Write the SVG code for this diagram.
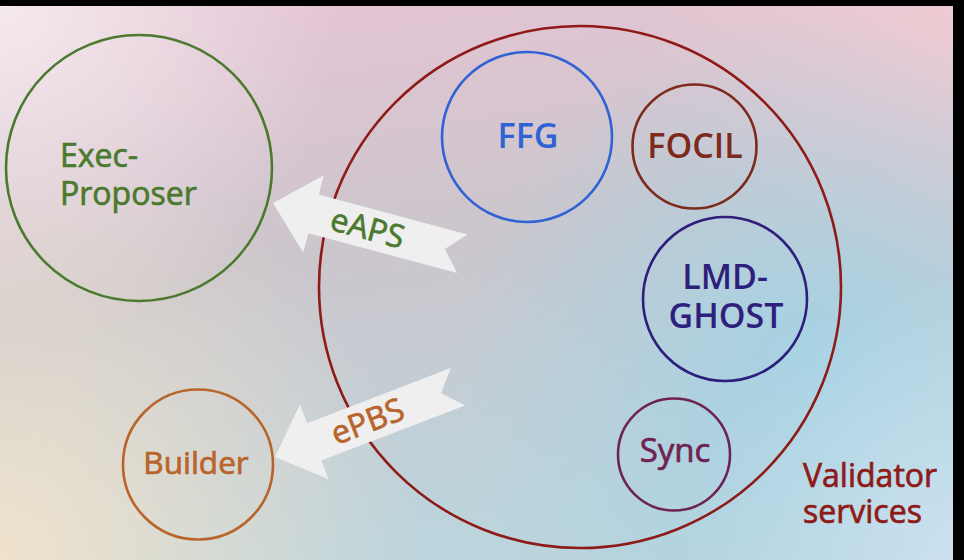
<svg xmlns="http://www.w3.org/2000/svg" width="964" height="560" viewBox="0 0 964 560">
<defs>
<linearGradient id="bg" x1="0" y1="0" x2="0.25" y2="1">
<stop offset="0" stop-color="#e8c4d4"/>
<stop offset="0.5" stop-color="#ccc6cc"/>
<stop offset="1" stop-color="#bcd4dc"/>
</linearGradient>
<radialGradient id="g1" cx="0" cy="560" r="420" gradientUnits="userSpaceOnUse">
<stop offset="0" stop-color="#f0e2cc" stop-opacity="1"/>
<stop offset="1" stop-color="#f0e2cc" stop-opacity="0"/>
</radialGradient>
<radialGradient id="g2" cx="820" cy="370" r="360" gradientUnits="userSpaceOnUse">
<stop offset="0" stop-color="#a4d2e4" stop-opacity="0.95"/>
<stop offset="1" stop-color="#a4d2e4" stop-opacity="0"/>
</radialGradient>
<radialGradient id="g3" cx="0" cy="0" r="340" gradientUnits="userSpaceOnUse">
<stop offset="0" stop-color="#f5ecf0" stop-opacity="0.95"/>
<stop offset="1" stop-color="#f5ecf0" stop-opacity="0"/>
</radialGradient>
<radialGradient id="g4" cx="964" cy="0" r="340" gradientUnits="userSpaceOnUse">
<stop offset="0" stop-color="#f2ccd4" stop-opacity="0.9"/>
<stop offset="1" stop-color="#f2ccd4" stop-opacity="0"/>
</radialGradient>
<radialGradient id="g5" cx="964" cy="560" r="280" gradientUnits="userSpaceOnUse">
<stop offset="0" stop-color="#cfe3f1" stop-opacity="0.9"/>
<stop offset="1" stop-color="#cfe3f1" stop-opacity="0"/>
</radialGradient>
<polygon id="arrowShape" points="0,0 42,-40 42,-20 196,-20 178,0 196,20 42,20 42,40"/>
</defs>
<style>
circle { fill: none; stroke-width: 2.6; }
text { font-family: "Open Sans", "Noto Sans", "Liberation Sans", sans-serif; }
.med { stroke-width: 0.7; }
.semi { font-weight: 600; }
.arrow { fill: #efefef; }
</style>
<rect x="0" y="0" width="964" height="560" fill="url(#bg)"/>
<rect x="0" y="0" width="964" height="560" fill="url(#g3)"/>
<rect x="0" y="0" width="964" height="560" fill="url(#g4)"/>
<rect x="0" y="0" width="964" height="560" fill="url(#g1)"/>
<rect x="0" y="0" width="964" height="560" fill="url(#g2)"/>
<rect x="0" y="0" width="964" height="560" fill="url(#g5)"/>

<g id="validator-services">
<circle cx="580" cy="287" r="261" stroke="#8e1b17"/>
<text x="803" y="487" font-size="32" fill="#8e1b17" stroke="#8e1b17" class="med">Validator</text>
<text x="803" y="523" font-size="32" fill="#8e1b17" stroke="#8e1b17" class="med">services</text>
</g>

<g id="exec-proposer">
<circle cx="139" cy="168" r="133" stroke="#4b7a2f"/>
<text x="60" y="167" font-size="32" fill="#4b7a2f" stroke="#4b7a2f" class="med">Exec-</text>
<text x="60" y="205" font-size="32" fill="#4b7a2f" stroke="#4b7a2f" class="med">Proposer</text>
</g>

<g id="builder">
<circle cx="198" cy="464.5" r="75" stroke="#b8642a"/>
<text x="196" y="474" font-size="31.5" fill="#b8642a" stroke="#b8642a" class="med" text-anchor="middle">Builder</text>
</g>

<g id="ffg">
<circle cx="527" cy="137" r="85" stroke="#2f62d4"/>
<text x="528" y="148" font-size="34" fill="#2f62d4" text-anchor="middle" class="semi">FFG</text>
</g>

<g id="focil">
<circle cx="694.5" cy="146.5" r="62" stroke="#7d2a1c"/>
<text x="695" y="158" font-size="34" fill="#7d2a1c" text-anchor="middle" class="semi">FOCIL</text>
</g>

<g id="lmd-ghost">
<circle cx="725" cy="299" r="82" stroke="#2e1f7c"/>
<text x="725" y="289" font-size="34" fill="#2e1f7c" text-anchor="middle" class="semi">LMD-</text>
<text x="726" y="328" font-size="34" fill="#2e1f7c" text-anchor="middle" class="semi">GHOST</text>
</g>

<g id="sync">
<circle cx="674" cy="454.5" r="56" stroke="#6e2352"/>
<text x="675" y="462" font-size="33" fill="#6e2352" stroke="#6e2352" class="med" text-anchor="middle">Sync</text>
</g>

<g id="connectors">
<g id="eaps" transform="translate(273,203) rotate(15)">
<use href="#arrowShape" class="arrow"/>
<text x="98" y="11" font-size="32" fill="#4b7a2f" stroke="#4b7a2f" class="med" text-anchor="middle">eAPS</text>
</g>
<g id="epbs" transform="translate(275,457) rotate(-21)">
<use href="#arrowShape" class="arrow"/>
<text x="99" y="11" font-size="32" fill="#b8642a" stroke="#b8642a" class="med" text-anchor="middle">ePBS</text>
</g>
</g>

<rect x="0" y="0" width="964" height="6" fill="#000"/>
<rect x="953" y="0" width="11" height="560" fill="#000"/>
</svg>
